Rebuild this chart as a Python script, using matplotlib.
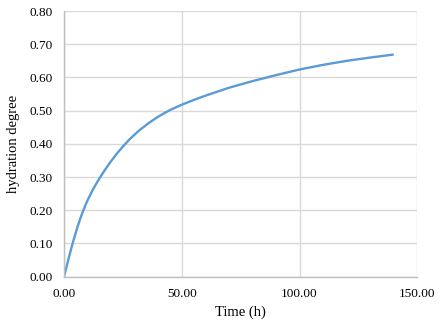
import matplotlib
matplotlib.use("Agg")
import matplotlib.pyplot as plt
from matplotlib.ticker import FormatStrFormatter

time_h = [0, 1, 2, 3, 4, 5, 6, 7, 8, 9, 10, 12, 14, 16, 18, 20, 22, 25, 28,
          32, 36, 40, 45, 50, 55, 60, 70, 80, 90, 100, 110, 120, 130, 140]
hydration = [0.0, 0.028, 0.056, 0.083, 0.109, 0.133, 0.156, 0.177, 0.196,
             0.214, 0.230, 0.259, 0.284, 0.307, 0.328, 0.348, 0.367, 0.392,
             0.415, 0.441, 0.463, 0.482, 0.502, 0.518, 0.532, 0.545, 0.569,
             0.589, 0.607, 0.624, 0.638, 0.650, 0.660, 0.669]
x_ticks = [0, 50, 100, 150]
y_ticks = [0.0, 0.1, 0.2, 0.3, 0.4, 0.5, 0.6, 0.7, 0.8]

plt.rcParams['font.family'] = ['Liberation Serif', 'DejaVu Serif']

fig = plt.figure(figsize=(4.4, 3.25), dpi=100)
ax = fig.add_axes([0.1455, 0.1486, 0.9484 - 0.1455, 0.966 - 0.1486])

ax.plot(time_h, hydration, color='#5B9BD5', linewidth=1.7,
        solid_capstyle='butt', solid_joinstyle='round')

ax.set_xlim(0, 150)
ax.set_ylim(0, 0.8)
ax.set_xticks(x_ticks)
ax.set_yticks(y_ticks)
ax.xaxis.set_major_formatter(FormatStrFormatter('%.2f'))
ax.yaxis.set_major_formatter(FormatStrFormatter('%.2f'))
ax.grid(True, color='#D9D9D9', linewidth=1.0)
ax.set_axisbelow(True)
ax.tick_params(length=0, labelsize=9.5, colors='#000000', pad=8)

for s in ['top', 'right']:
    ax.spines[s].set_visible(False)
for s in ['left', 'bottom']:
    ax.spines[s].set_color('#BFBFBF')
    ax.spines[s].set_linewidth(1.0)

ax.set_xlabel('Time (h)', fontsize=10.5, labelpad=4)
ax.set_ylabel('hydration degree', fontsize=10.5, labelpad=7)

fig.savefig('out.png', dpi=100)
